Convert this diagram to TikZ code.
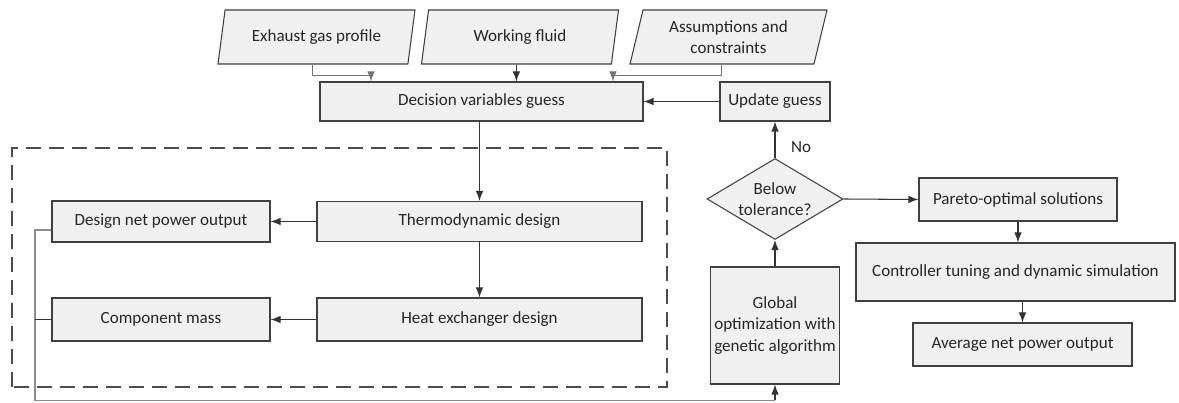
\documentclass[tikz,border=0pt]{standalone}
\usepackage{fontspec}
\setmainfont{Carlito}
\usetikzlibrary{arrows.meta,shapes.geometric}
\begin{document}
\begin{tikzpicture}[
        every node/.style={font=\fontsize{9.7}{12}\selectfont, text=black!85},
        box/.style={draw=black!75, fill=black!6, line width=0.6pt, align=center, inner sep=2pt},
        inbox/.style={box, trapezium, trapezium left angle=72, trapezium right angle=108,
            trapezium stretches body, minimum width=3.94cm, minimum height=1.08cm},
        line/.style={draw=black!80, line width=0.6pt},
        arr/.style={line, -{Latex[length=2mm,width=1.5mm]}},
        pale/.style={draw=black!45, line width=0.6pt},
        frame/.style={draw=black!70, line width=0.7pt, dash pattern=on 0.3cm off 0.16cm}
    ]
    \useasboundingbox (0,0) rectangle (23.58,8.06);
    \path   node[inbox] (EG) at (6.33, 7.32) {Exhaust gas profile}
            node[inbox] (WF) at (10.4, 7.32) {Working fluid}
            node[inbox] (AC) at (14.57, 7.32) {Assumptions and\\constraints}
            node[box, minimum width=6.46cm, minimum height=0.78cm] (DV) at (9.63, 6.03) {Decision variables guess}
            node[box, minimum width=2.2cm, minimum height=0.78cm] (UG) at (15.5, 6.03) {Update guess}
            node[box, minimum width=6.5cm, minimum height=0.8cm] (TD) at (9.59, 3.63) {Thermodynamic design}
            node[box, minimum width=6.5cm, minimum height=0.86cm] (HX) at (9.59, 1.67) {Heat exchanger design}
            node[box, minimum width=4.36cm, minimum height=0.82cm] (DP) at (3.22, 3.63) {Design net power output}
            node[box, minimum width=4.36cm, minimum height=0.86cm] (CM) at (3.22, 1.67) {Component mass}
            node[box, diamond, aspect=1.7, inner sep=0pt, minimum width=2.72cm, minimum height=1.62cm] (BT) at (15.5, 4.08) {Below\\tolerance?}
            node[box, minimum width=2.52cm, minimum height=2.34cm] (GO) at (15.5, 1.55) {Global\\optimization with\\genetic algorithm}
            node (NO) at (16.02, 5.12) {No}
            node[box, minimum width=3.96cm, minimum height=0.86cm] (PO) at (20.36, 4.07) {Pareto-optimal solutions}
            node[box, minimum width=6.38cm, minimum height=1.16cm] (CT) at (20.31, 2.62) {Controller tuning and dynamic simulation}
            node[box, minimum width=4.38cm, minimum height=0.86cm] (AP) at (20.45, 1.17) {Average net power output};
    % frame round the design steps
    \draw[frame] (0.24, 0.32) rectangle (13.34, 5.1);
    \coordinate (FB) at (0.7, 0.05);
    \draw[arr, draw=black!55] (EG.bottom side) -- ++(0,-0.22) -| ([xshift=-2.21cm]DV.north);
    \draw[arr] (WF.bottom side) -- (WF.bottom side |- DV.north);
    \draw[arr, draw=black!55] (AC.bottom side) -- ++(0,-0.22) -| ([xshift=2.63cm]DV.north);
    \draw[arr] (UG.west) -- (DV.east);
    \draw[arr] (DV.south -| TD.north) -- (TD.north);
    \draw[arr] (TD.south) -- (HX.north);
    \draw[arr] (TD.west) -- (DP.east);
    \draw[arr] (HX.west) -- (CM.east);
    \draw[pale] ([yshift=-0.17cm]DP.west) -| (FB) -- (FB -| GO.south);
    \draw[line] (CM.west) -- (CM.west -| FB);
    \draw[arr] (FB -| GO.south) -- (GO.south);
    \draw[arr] (GO.north) -- (BT.south);
    \draw[arr] (BT.north) -- (UG.south);
    \draw[arr] (BT.east) -- (PO.west);
    \draw[arr] (PO.south) -- (PO.south |- CT.north);
    \draw[arr] (CT.south -| AP.north) -- (AP.north);
\end{tikzpicture}
\end{document}
